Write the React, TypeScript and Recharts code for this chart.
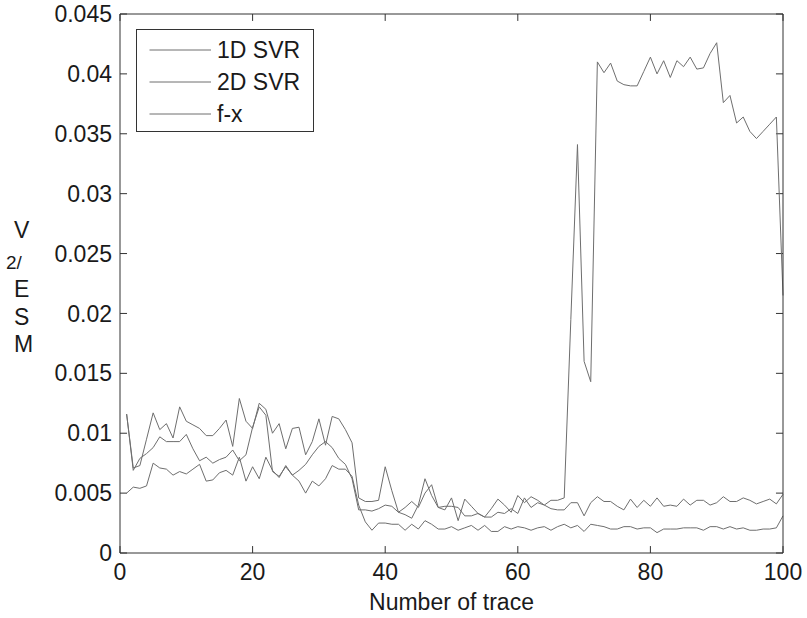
import { LineChart, Line, XAxis, YAxis, Legend, ReferenceLine } from "recharts";

// trace numbers along the x axis
const traces = Array.from({ length: 100 }, (_, i) => i + 1);

// values, trace 1..100
const fx = [
  0.0116, 0.0071, 0.0073, 0.0095, 0.0117, 0.0103, 0.0108, 0.0096, 0.0122, 0.011,
  0.0107, 0.0104, 0.0098, 0.0098, 0.0104, 0.0111, 0.0089, 0.0129, 0.011, 0.0104,
  0.0125, 0.012, 0.01, 0.0108, 0.0087, 0.0104, 0.0105, 0.0082, 0.0093, 0.0112,
  0.009, 0.0114, 0.0112, 0.0103, 0.0092, 0.0046, 0.0043, 0.0043, 0.0044, 0.0072,
  0.0052, 0.0034, 0.0032, 0.0029, 0.004, 0.0062, 0.0048, 0.0038, 0.0036, 0.0046,
  0.0027, 0.0045, 0.0039, 0.0033, 0.003, 0.0037, 0.0045, 0.004, 0.0034, 0.0048,
  0.0042, 0.0047, 0.0044, 0.004, 0.0044, 0.0044, 0.0046, 0.0195, 0.0341, 0.016,
  0.0143, 0.041, 0.0401, 0.0409, 0.0394, 0.0391, 0.039, 0.039, 0.0402, 0.0414,
  0.04, 0.0411, 0.0397, 0.0411, 0.0406, 0.0414, 0.0404, 0.0405, 0.0417, 0.0426,
  0.0376, 0.0382, 0.0359, 0.0364, 0.0352, 0.0346, 0.0352, 0.0358, 0.0364, 0.0215,
];

const svr1d = [
  0.0116, 0.0069, 0.0079, 0.0083, 0.0088, 0.0097, 0.0093, 0.0093, 0.0093, 0.0099,
  0.0087, 0.0077, 0.008, 0.0075, 0.0078, 0.008, 0.0086, 0.0077, 0.0082, 0.0105,
  0.0122, 0.0115, 0.0068, 0.0064, 0.0072, 0.0065, 0.0069, 0.0074, 0.0082, 0.0089,
  0.0093, 0.0088, 0.0079, 0.0074, 0.0062, 0.0036, 0.0036, 0.0035, 0.0037, 0.004,
  0.0039, 0.0034, 0.0038, 0.0043, 0.0038, 0.005, 0.0057, 0.0038, 0.0039, 0.0039,
  0.0038, 0.0031, 0.0031, 0.0033, 0.003, 0.003, 0.0034, 0.0033, 0.0037, 0.0033,
  0.0046, 0.0038, 0.0042, 0.004, 0.0037, 0.0036, 0.0036, 0.0042, 0.0042, 0.0031,
  0.0042, 0.0047, 0.0043, 0.0043, 0.0039, 0.0036, 0.0045, 0.0038, 0.0044, 0.0039,
  0.0046, 0.0039, 0.004, 0.0039, 0.0045, 0.004, 0.0044, 0.0044, 0.004, 0.0042,
  0.0047, 0.0043, 0.0043, 0.0046, 0.0044, 0.0041, 0.0043, 0.0045, 0.0041, 0.0049,
];

const svr2d = [
  0.005, 0.0055, 0.0054, 0.0056, 0.0075, 0.0071, 0.007, 0.0065, 0.0068, 0.0066,
  0.007, 0.0074, 0.006, 0.0061, 0.0067, 0.0069, 0.0065, 0.008, 0.006, 0.0072,
  0.0062, 0.008, 0.0069, 0.0063, 0.0073, 0.0065, 0.006, 0.005, 0.006, 0.0056,
  0.0062, 0.0073, 0.007, 0.007, 0.0064, 0.004, 0.0026, 0.0019, 0.0025, 0.0025,
  0.0024, 0.0024, 0.0019, 0.0024, 0.002, 0.0027, 0.0024, 0.002, 0.002, 0.0022,
  0.0019, 0.0021, 0.0023, 0.0019, 0.0023, 0.0018, 0.0018, 0.0022, 0.002, 0.0022,
  0.0021, 0.0019, 0.0021, 0.0022, 0.0019, 0.0022, 0.0024, 0.0021, 0.0023, 0.0018,
  0.0024, 0.0023, 0.0022, 0.002, 0.002, 0.0022, 0.0022, 0.002, 0.0021, 0.0021,
  0.0017, 0.002, 0.002, 0.002, 0.0021, 0.0021, 0.0021, 0.0019, 0.0022, 0.0022,
  0.002, 0.0022, 0.002, 0.0021, 0.0019, 0.0019, 0.002, 0.002, 0.0021, 0.0031,
];

const xTicks = [0, 20, 40, 60, 80, 100];
const yTicks = [0, 0.005, 0.01, 0.015, 0.02, 0.025, 0.03, 0.035, 0.04, 0.045];

const FONT = "'Liberation Sans', Arial, Helvetica, sans-serif";
const AXIS = "#333";
const INK = "#1a1a1a";
const LINE = "#6e6e6e";

// inward tick length (~7px) in data units
const TICK_Y = 0.00058;
const TICK_X = 1.06;

const rows = traces.map((t, i) => ({ trace: t, svr1d: svr1d[i], svr2d: svr2d[i], fx: fx[i] }));

// MATLAB-ish stacked y label: "MSE/V²" written bottom-up
const YLabel = (props: any) => {
  const vb = props.viewBox || { x: 0, y: 14, height: 539 };
  const cy = vb.y + vb.height / 2;
  const x = 14;
  const st = { fontFamily: FONT, fill: INK };
  return (
    <g>
      <text x={x} y={cy - 45.5} fontSize={23} style={st}>V</text>
      <text x={6} y={cy - 15} fontSize={19} style={st}>2/</text>
      <text x={x} y={cy + 13.5} fontSize={23} style={st}>E</text>
      <text x={x} y={cy + 41.5} fontSize={23} style={st}>S</text>
      <text x={x} y={cy + 68.5} fontSize={23} style={st}>M</text>
    </g>
  );
};

const LegendBox = ({ payload }: any) => (
  <div
    style={{
      width: 178,
      height: 103,
      border: `1px solid ${AXIS}`,
      background: "#fff",
      boxSizing: "border-box",
      position: "relative",
      fontFamily: FONT,
    }}
  >
    {(payload || []).map((p: any, i: number) => (
      <div
        key={p.value}
        style={{
          position: "absolute",
          left: 0,
          top: 19.5 + i * 32.2 - 14,
          height: 28,
          display: "flex",
          alignItems: "center",
        }}
      >
        <svg width={76} height={28} style={{ display: "block" }}>
          <line x1={12.5} x2={74} y1={14} y2={14} stroke={LINE} strokeWidth={1} />
        </svg>
        <span style={{ fontSize: 23, color: INK, marginLeft: 4, lineHeight: "28px" }}>{p.value}</span>
      </div>
    ))}
  </div>
);

export default function App() {
  return (
    <div style={{ width: 807, height: 618 }}>
      <style>{"body{margin:0}"}</style>
      <LineChart width={807} height={618} data={rows} margin={{ top: 14, right: 24, bottom: 0, left: 0 }}>
        <XAxis
          dataKey="trace"
          type="number"
          domain={[0, 100]}
          ticks={xTicks}
          interval={0}
          height={65}
          tickSize={0}
          tickLine={false}
          tickMargin={11}
          axisLine={{ stroke: AXIS }}
          tick={{ fontSize: 23, fill: INK, fontFamily: FONT }}
          label={{ value: "Number of trace", position: "insideBottom", offset: 8, fontSize: 23, fill: INK, fontFamily: FONT }}
        />
        <XAxis xAxisId="top" orientation="top" dataKey="trace" type="number" domain={[0, 100]} mirror tick={false} tickLine={false} axisLine={{ stroke: AXIS }} />
        <YAxis
          type="number"
          domain={[0, 0.045]}
          ticks={yTicks}
          interval={0}
          width={120}
          tickSize={0}
          tickLine={false}
          tickMargin={8}
          axisLine={{ stroke: AXIS }}
          tick={{ fontSize: 23, fill: INK, fontFamily: FONT }}
          label={<YLabel />}
        />
        <YAxis yAxisId="right" orientation="right" type="number" domain={[0, 0.045]} mirror tick={false} tickLine={false} axisLine={{ stroke: AXIS }} />
        {xTicks.map((t) => (
          <ReferenceLine key={`xb${t}`} segment={[{ x: t, y: 0 }, { x: t, y: TICK_Y }]} stroke={AXIS} />
        ))}
        {xTicks.map((t) => (
          <ReferenceLine key={`xt${t}`} segment={[{ x: t, y: 0.045 }, { x: t, y: 0.045 - TICK_Y }]} stroke={AXIS} />
        ))}
        {yTicks.map((t) => (
          <ReferenceLine key={`yl${t}`} segment={[{ x: 0, y: t }, { x: TICK_X, y: t }]} stroke={AXIS} />
        ))}
        {yTicks.map((t) => (
          <ReferenceLine key={`yr${t}`} segment={[{ x: 100, y: t }, { x: 100 - TICK_X, y: t }]} stroke={AXIS} />
        ))}
        <Legend
          layout="vertical"
          verticalAlign="middle"
          align="center"
          content={<LegendBox />}
          wrapperStyle={{ left: 136, top: 29, width: 178 }}
        />
        <Line name="1D SVR" dataKey="svr1d" stroke={LINE} strokeWidth={1} dot={false} isAnimationActive={false} />
        <Line name="2D SVR" dataKey="svr2d" stroke={LINE} strokeWidth={1} dot={false} isAnimationActive={false} />
        <Line name="f-x" dataKey="fx" stroke={LINE} strokeWidth={1} dot={false} isAnimationActive={false} />
      </LineChart>
    </div>
  );
}
